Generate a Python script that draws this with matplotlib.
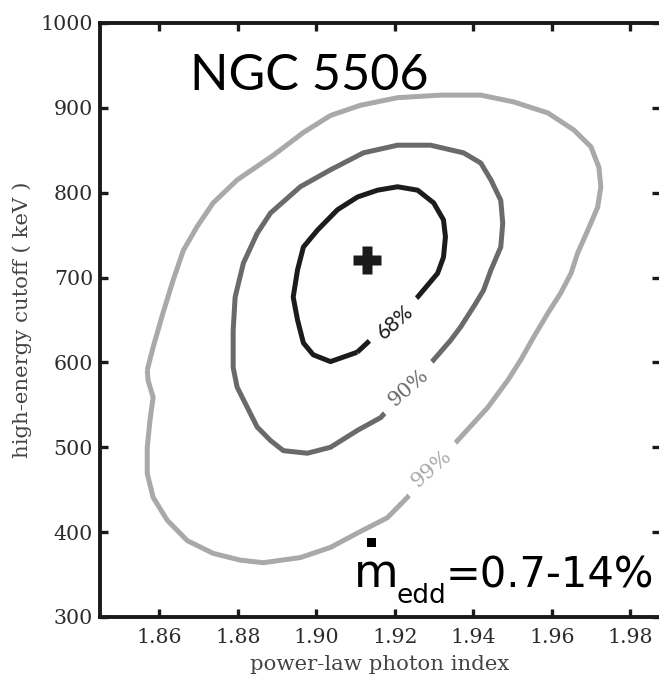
import matplotlib
matplotlib.use("Agg")
import matplotlib.pyplot as plt
from matplotlib.patches import Rectangle

# Confidence contours in the (photon index, cutoff energy) plane
gamma_99 = [1.8569, 1.8584, 1.8609, 1.8635, 1.8661, 1.8696, 1.8737, 1.8798, 1.8890,
            1.8967, 1.9036, 1.9112, 1.9207, 1.9317, 1.9419, 1.9503, 1.9590, 1.9656,
            1.9700, 1.9720, 1.9725, 1.9717, 1.9692, 1.9666, 1.9649, 1.9623, 1.9590,
            1.9554, 1.9521, 1.9488, 1.9437, 1.9360, 1.9296, 1.9232, 1.9181, 1.9105,
            1.9036, 1.8959, 1.8865, 1.8806, 1.8737, 1.8671, 1.8620, 1.8584, 1.8569,
            1.8569, 1.8576, 1.8584, 1.8571, 1.8569]
ecut_99 = [591, 618, 658, 697, 732, 760, 788, 815, 844,
           871, 891, 903, 912, 915, 915, 907, 894, 874,
           854, 830, 807, 783, 756, 729, 705, 682, 658,
           630, 603, 579, 547, 508, 475, 441, 417, 399,
           382, 370, 364, 367, 375, 390, 414, 441, 469,
           500, 532, 559, 579, 591]

gamma_90 = [1.8788, 1.8793, 1.8814, 1.8849, 1.8883, 1.8959, 1.9036, 1.9120, 1.9207,
            1.9291, 1.9375, 1.9419, 1.9445, 1.9470, 1.9475, 1.9470, 1.9445, 1.9426,
            1.9404, 1.9368, 1.9342, 1.9299, 1.9232, 1.9164, 1.9105, 1.9036, 1.8977,
            1.8916, 1.8883, 1.8849, 1.8824, 1.8798, 1.8788, 1.8788]
ecut_90 = [638, 677, 717, 752, 776, 807, 827, 847, 856,
           856, 847, 835, 815, 791, 764, 736, 709, 685,
           668, 642, 626, 603, 570, 535, 520, 500, 493,
           496, 508, 524, 547, 571, 594, 638]

gamma_68 = [1.9104, 1.9036, 1.8992, 1.8967, 1.8952, 1.8941, 1.8952, 1.8967, 1.9003,
            1.9054, 1.9105, 1.9156, 1.9207, 1.9258, 1.9299, 1.9324, 1.9329, 1.9324,
            1.9309, 1.9258, 1.9181, 1.9104]
ecut_68 = [612, 601, 609, 623, 650, 677, 709, 736, 756,
           780, 795, 803, 807, 803, 788, 768, 748, 724,
           705, 677, 645, 612]

best_gamma = [1.913]
best_ecut = [721]

levels = ["68%", "90%", "99%"]
label_gamma = [1.9202, 1.9235, 1.9294]
label_ecut = [647, 570, 475]

xticks = [1.86, 1.88, 1.90, 1.92, 1.94, 1.96, 1.98]
yticks = [300, 400, 500, 600, 700, 800, 900, 1000]

W, H = 659, 680
fig = plt.figure(figsize=(W / 100, H / 100), dpi=100)
ax = fig.add_axes([100 / W, 1 - 617 / H, 560 / W, 594 / H])

colors = ["#1c1c1c", "#6a6a6a", "#a9a9a9"]
curves = [(gamma_68, ecut_68), (gamma_90, ecut_90), (gamma_99, ecut_99)]
for (g, e), c in zip(curves, colors):
    ax.plot(g, e, color=c, lw=3.6, solid_joinstyle="round", solid_capstyle="butt", zorder=2)

label_fonts = [["Lato", "DejaVu Sans"], ["DejaVu Serif"], ["DejaVu Serif"]]
for lab, gx, ey, c, fam in zip(levels, label_gamma, label_ecut, colors, label_fonts):
    ax.text(gx, ey, lab, color=c, fontsize=15, family=fam, rotation=41,
            rotation_mode="anchor", ha="center", va="center", zorder=3,
            bbox=dict(boxstyle="square,pad=0.55", fc="white", ec="none"))

ax.plot(best_gamma, best_ecut, marker="P", ms=20, color="#1a1a1a", mec="none",
        ls="none", zorder=4)

ax.set_xlim(1.84486, 1.98758)
ax.set_ylim(300, 1000)
ax.set_xticks(xticks)
ax.set_xticklabels([f"{v:.2f}" for v in xticks])
ax.set_yticks(yticks)
ax.set_yticklabels([str(v) for v in yticks])

for side in ["left", "bottom", "top"]:
    ax.spines[side].set_linewidth(2.8)
    ax.spines[side].set_color("#1a1a1a")
ax.spines["right"].set_linewidth(1.0)
ax.spines["right"].set_color("#dddddd")

ax.tick_params(direction="in", length=6, width=2.4, color="#1a1a1a",
               top=True, right=True, labelsize=14.8, labelcolor="#2b2b2b")
ax.tick_params(axis="x", pad=8)
ax.tick_params(axis="y", pad=5)
for lbl in ax.get_xticklabels() + ax.get_yticklabels():
    lbl.set_family("DejaVu Serif")

ax.set_xlabel("power-law photon index", family="DejaVu Serif", fontsize=15.3,
              color="#444444", labelpad=6)
ax.set_ylabel("high-energy cutoff ( keV )", family="DejaVu Serif", fontsize=15.3,
              color="#444444", labelpad=6)

# Source name
fig.text(190 / W, 1 - 90 / H, "NGC 5506", family="Lato", fontsize=36.3,
         color="black", ha="left", va="baseline")

# Eddington ratio range
fig.text(354 / W, 1 - 587 / H, "m", family="DejaVu Sans", fontsize=33,
         color="black", ha="left", va="baseline")
fig.add_artist(Rectangle((367 / W, 1 - 547 / H), 9 / W, 9 / H,
                         transform=fig.transFigure, color="black", lw=0))
fig.text(396 / W, 1 - 603 / H, "edd", family="DejaVu Sans", fontsize=19,
         color="black", ha="left", va="baseline")
fig.text(446 / W, 1 - 587 / H, "=0.7-14%", family="DejaVu Sans", fontsize=30,
         color="black", ha="left", va="baseline")

fig.savefig("out.png", dpi=100, facecolor="white")
